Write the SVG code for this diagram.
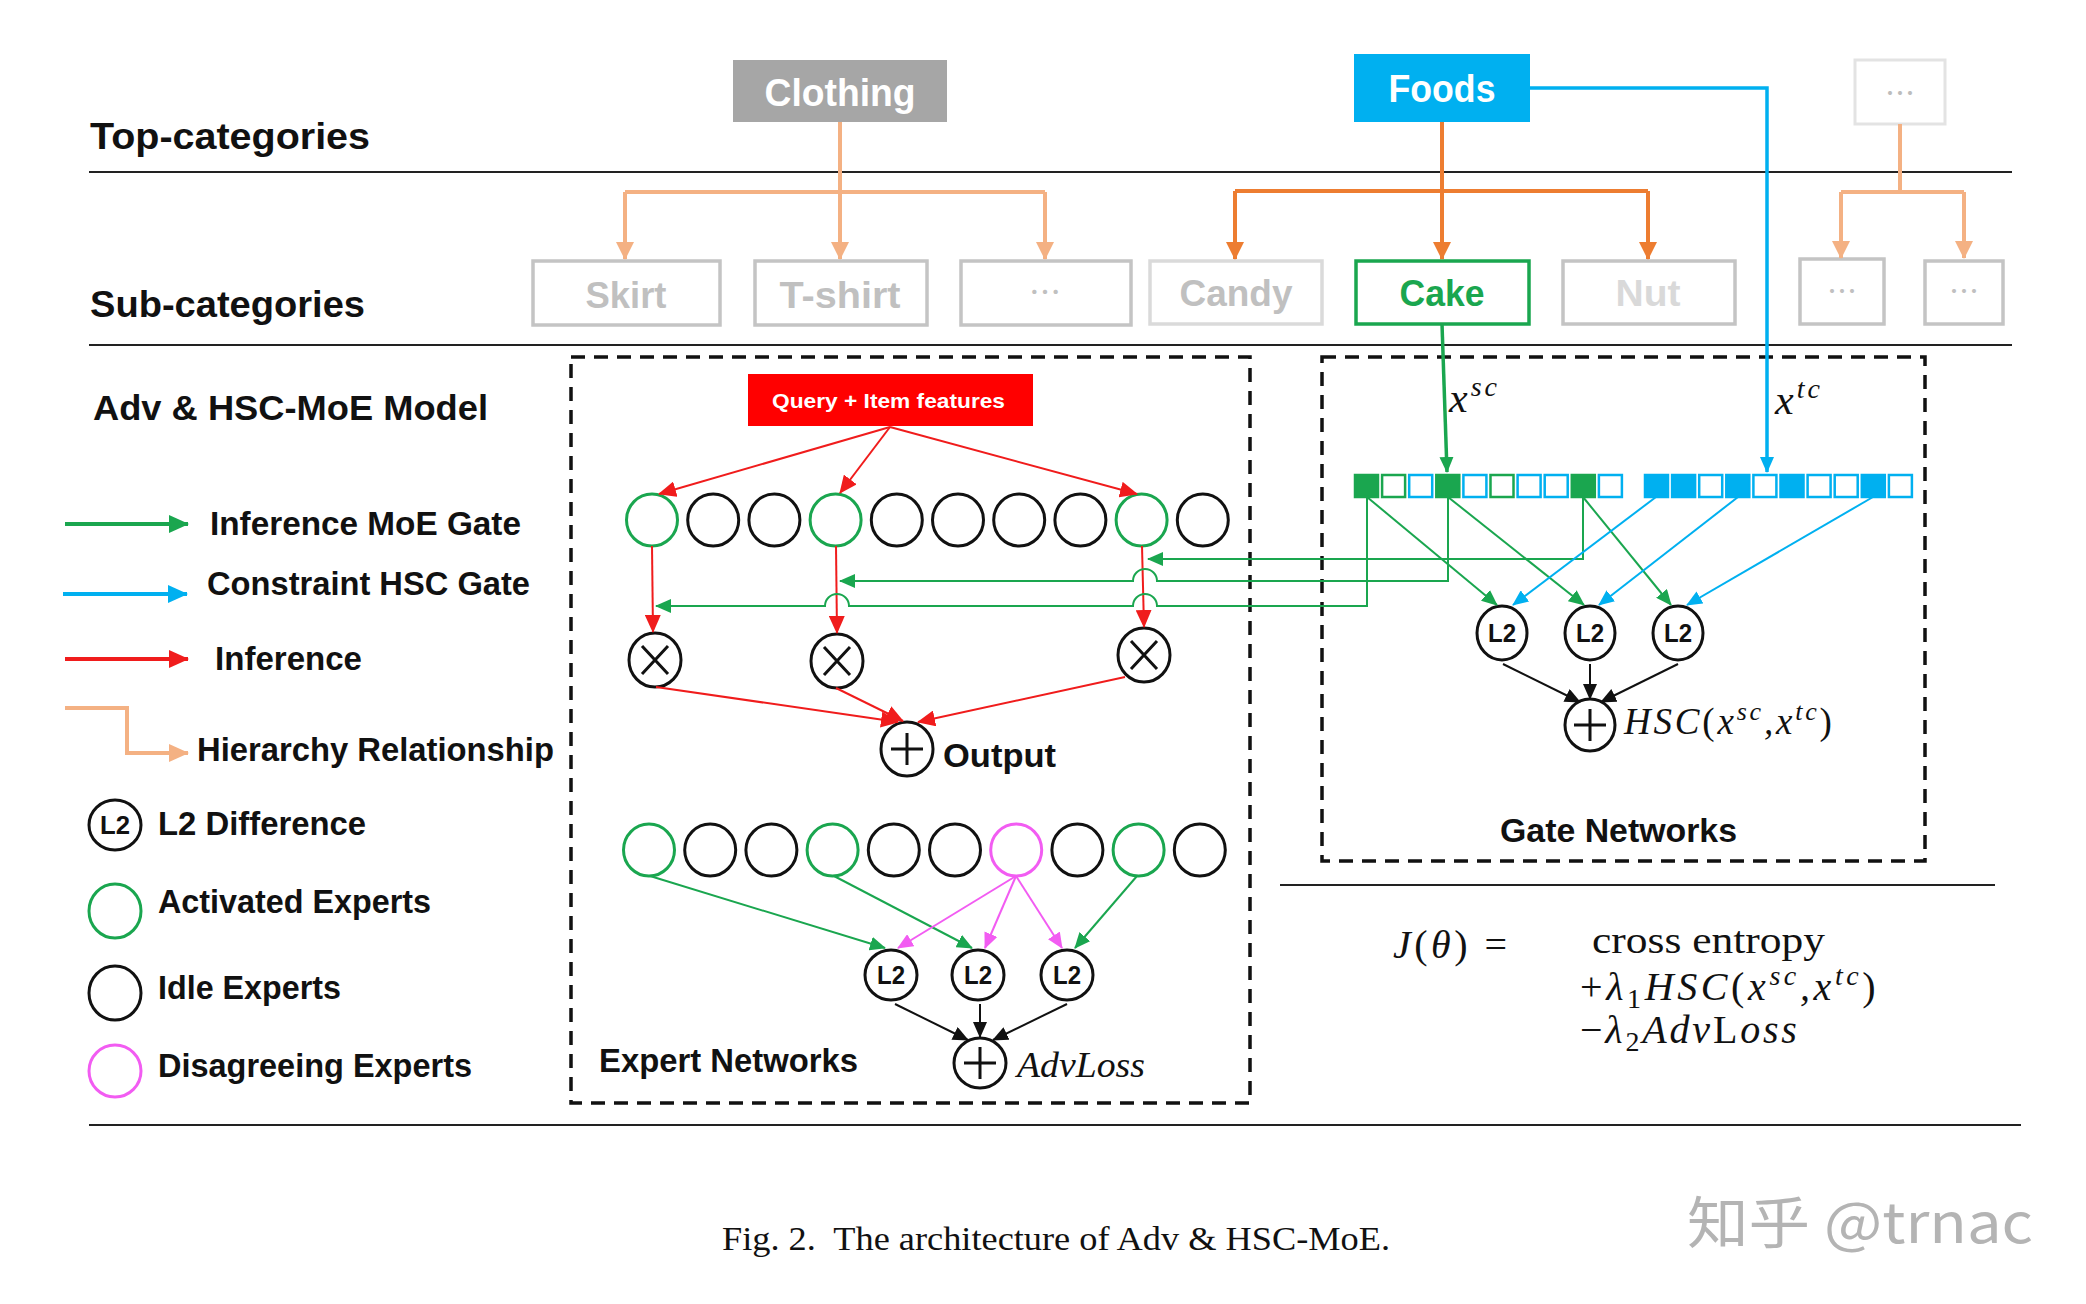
<svg xmlns="http://www.w3.org/2000/svg" width="2086" height="1304" viewBox="0 0 2086 1304">
<style>
.sep{stroke:#222;stroke-width:2;fill:none}
.dash{fill:none;stroke:#111;stroke-width:3.5;stroke-dasharray:14 9}
.lbl{font-family:"Liberation Sans",Arial,sans-serif;font-weight:bold;fill:#111}
.box{font-family:"Liberation Sans",Arial,sans-serif;font-weight:bold;text-anchor:middle}
.dots{font-family:"Noto Sans CJK SC","Liberation Sans",sans-serif;text-anchor:middle}
.ek{fill:#fff;stroke:#111;stroke-width:3}
.eg{fill:#fff;stroke:#1aa64f;stroke-width:3}
.ep{fill:#fff;stroke:#f25cf2;stroke-width:3}
.op{fill:#fff;stroke:#111;stroke-width:3}
.opl{stroke:#111;stroke-width:3;fill:none}
.l2t{font-family:"Liberation Sans",Arial,sans-serif;font-weight:bold;font-size:26px;text-anchor:middle;fill:#111}
.m{font-family:"Liberation Serif","Times New Roman",serif;font-style:italic;fill:#111}
.mu{font-family:"Liberation Serif","Times New Roman",serif;font-style:normal;fill:#111}
.hl{stroke:#f4b183;stroke-width:4;fill:none}
.hd{stroke:#ed7d31;stroke-width:4;fill:none}
.red{stroke:#f01c1c;stroke-width:2;fill:none}
.grn{stroke:#1aa64f;stroke-width:2;fill:none}
.blu{stroke:#00b0f0;stroke-width:2;fill:none}
.pnk{stroke:#f25cf2;stroke-width:2;fill:none}
.blk{stroke:#111;stroke-width:2;fill:none}
.sqg{fill:#fff;stroke:#1aa64f;stroke-width:2.5}
.sqb{fill:#fff;stroke:#00b0f0;stroke-width:2.5}
.sqG{fill:#1aa64f;stroke:#1aa64f;stroke-width:2.5}
.sqB{fill:#00b0f0;stroke:#00b0f0;stroke-width:2.5}
</style>
<defs>
<marker id="aR" markerUnits="userSpaceOnUse" markerWidth="18" markerHeight="16" viewBox="0 0 18 16" refX="17" refY="8" orient="auto"><path d="M0,0 L18,8 L0,16 z" fill="#f01c1c"/></marker>
<marker id="aG" markerUnits="userSpaceOnUse" markerWidth="16" markerHeight="14" viewBox="0 0 16 14" refX="15" refY="7" orient="auto"><path d="M0,0 L16,7 L0,14 z" fill="#1aa64f"/></marker>
<marker id="aB" markerUnits="userSpaceOnUse" markerWidth="16" markerHeight="14" viewBox="0 0 16 14" refX="15" refY="7" orient="auto"><path d="M0,0 L16,7 L0,14 z" fill="#00b0f0"/></marker>
<marker id="aP" markerUnits="userSpaceOnUse" markerWidth="16" markerHeight="14" viewBox="0 0 16 14" refX="15" refY="7" orient="auto"><path d="M0,0 L16,7 L0,14 z" fill="#f25cf2"/></marker>
<marker id="aK" markerUnits="userSpaceOnUse" markerWidth="16" markerHeight="14" viewBox="0 0 16 14" refX="15" refY="7" orient="auto"><path d="M0,0 L16,7 L0,14 z" fill="#111"/></marker>
<marker id="aL" markerUnits="userSpaceOnUse" markerWidth="18" markerHeight="18" viewBox="0 0 18 18" refX="17" refY="9" orient="auto"><path d="M0,0 L18,9 L0,18 z" fill="#f4b183"/></marker>
<marker id="aD" markerUnits="userSpaceOnUse" markerWidth="18" markerHeight="18" viewBox="0 0 18 18" refX="17" refY="9" orient="auto"><path d="M0,0 L18,9 L0,18 z" fill="#ed7d31"/></marker>
<marker id="aGL" markerUnits="userSpaceOnUse" markerWidth="20" markerHeight="18" viewBox="0 0 20 18" refX="19" refY="9" orient="auto"><path d="M0,0 L20,9 L0,18 z" fill="#1aa64f"/></marker>
<marker id="aBL" markerUnits="userSpaceOnUse" markerWidth="20" markerHeight="18" viewBox="0 0 20 18" refX="19" refY="9" orient="auto"><path d="M0,0 L20,9 L0,18 z" fill="#00b0f0"/></marker>
<marker id="aRL" markerUnits="userSpaceOnUse" markerWidth="20" markerHeight="18" viewBox="0 0 20 18" refX="19" refY="9" orient="auto"><path d="M0,0 L20,9 L0,18 z" fill="#f01c1c"/></marker>
<marker id="aLL" markerUnits="userSpaceOnUse" markerWidth="20" markerHeight="18" viewBox="0 0 20 18" refX="19" refY="9" orient="auto"><path d="M0,0 L20,9 L0,18 z" fill="#f4b183"/></marker>
</defs>
<rect width="2086" height="1304" fill="#fff"/>

<!-- separators and frames -->
<g id="frames">
<line class="sep" x1="89" y1="172" x2="2012" y2="172"/>
<line class="sep" x1="89" y1="345" x2="2012" y2="345"/>
<line class="sep" x1="1280" y1="885" x2="1995" y2="885"/>
<line class="sep" x1="89" y1="1125" x2="2021" y2="1125"/>
<rect class="dash" x="571" y="357" width="679" height="746"/>
<rect class="dash" x="1322" y="357" width="603" height="504"/>
</g>

<g id="row-labels">
<text class="lbl" x="90" y="149" font-size="36" textLength="280" lengthAdjust="spacingAndGlyphs">Top-categories</text>
<text class="lbl" x="90" y="317" font-size="36" textLength="275" lengthAdjust="spacingAndGlyphs">Sub-categories</text>
<text class="lbl" x="93" y="420" font-size="35" textLength="395" lengthAdjust="spacingAndGlyphs">Adv &amp; HSC-MoE Model</text>
</g>

<!-- top categories -->
<g id="clothing"><rect x="733" y="60" width="214" height="62" fill="#a6a6a6"/><text class="box" x="840" y="106" font-size="38" fill="#fff" textLength="151" lengthAdjust="spacingAndGlyphs">Clothing</text></g>
<g id="foods"><rect x="1354" y="54" width="176" height="68" fill="#00b0f0"/><text class="box" x="1442" y="102" font-size="38" fill="#fff" textLength="107" lengthAdjust="spacingAndGlyphs">Foods</text></g>
<g id="top-more"><rect x="1855" y="60" width="90" height="64" fill="#fff" stroke="#e3e3e3" stroke-width="3"/><text class="dots" x="1900" y="104" font-size="30" fill="#bdbdbd">…</text></g>

<!-- sub categories -->
<g id="skirt"><rect x="533" y="261" width="187" height="64" fill="#fff" stroke="#c4c4c4" stroke-width="3.5"/><text class="box" x="626" y="308" font-size="37" fill="#c0c0c0" textLength="81" lengthAdjust="spacingAndGlyphs">Skirt</text></g>
<g id="tshirt"><rect x="755" y="261" width="172" height="64" fill="#fff" stroke="#c4c4c4" stroke-width="3.5"/><text class="box" x="840" y="308" font-size="37" fill="#c0c0c0" textLength="121" lengthAdjust="spacingAndGlyphs">T-shirt</text></g>
<g id="clothing-more"><rect x="961" y="261" width="170" height="64" fill="#fff" stroke="#c4c4c4" stroke-width="3.5"/><text class="dots" x="1045" y="304" font-size="32" fill="#c0c0c0">…</text></g>
<g id="candy"><rect x="1150" y="261" width="172" height="63" fill="#fff" stroke="#dadada" stroke-width="3.5"/><text class="box" x="1236" y="306" font-size="37" fill="#c0c0c0" textLength="113" lengthAdjust="spacingAndGlyphs">Candy</text></g>
<g id="cake"><rect x="1356" y="261" width="173" height="63" fill="#fff" stroke="#1aa64f" stroke-width="3.5"/><text class="box" x="1442" y="306" font-size="37" fill="#1aa64f" textLength="85" lengthAdjust="spacingAndGlyphs">Cake</text></g>
<g id="nut"><rect x="1563" y="261" width="172" height="63" fill="#fff" stroke="#c4c4c4" stroke-width="3.5"/><text class="box" x="1648" y="306" font-size="37" fill="#d9d9d9" textLength="65" lengthAdjust="spacingAndGlyphs">Nut</text></g>
<g id="more-1"><rect x="1800" y="259" width="84" height="65" fill="#fff" stroke="#c4c4c4" stroke-width="3.5"/><text class="dots" x="1842" y="302" font-size="30" fill="#c0c0c0">…</text></g>
<g id="more-2"><rect x="1925" y="261" width="78" height="63" fill="#fff" stroke="#c4c4c4" stroke-width="3.5"/><text class="dots" x="1964" y="302" font-size="30" fill="#c0c0c0">…</text></g>

<!-- legend -->
<g id="legend">
<line x1="65" y1="524" x2="188" y2="524" stroke="#1aa64f" stroke-width="4" marker-end="url(#aGL)"/>
<text class="lbl" x="210" y="535" font-size="33" textLength="311" lengthAdjust="spacingAndGlyphs">Inference MoE Gate</text>
<line x1="63" y1="594" x2="187" y2="594" stroke="#00b0f0" stroke-width="4" marker-end="url(#aBL)"/>
<text class="lbl" x="207" y="595" font-size="33" textLength="323" lengthAdjust="spacingAndGlyphs">Constraint HSC Gate</text>
<line x1="65" y1="659" x2="188" y2="659" stroke="#f01c1c" stroke-width="4" marker-end="url(#aRL)"/>
<text class="lbl" x="215" y="670" font-size="33" textLength="147" lengthAdjust="spacingAndGlyphs">Inference</text>
<path d="M65,708 H127 V753 H188" stroke="#f4b183" stroke-width="4" fill="none" marker-end="url(#aLL)"/>
<text class="lbl" x="197" y="761" font-size="33" textLength="357" lengthAdjust="spacingAndGlyphs">Hierarchy Relationship</text>
<ellipse class="op" cx="115" cy="825" rx="26" ry="25"/>
<text class="l2t" x="115" y="834" textLength="30" lengthAdjust="spacingAndGlyphs">L2</text>
<text class="lbl" x="158" y="835" font-size="33" textLength="208" lengthAdjust="spacingAndGlyphs">L2 Difference</text>
<ellipse class="eg" cx="115" cy="911" rx="26" ry="27"/>
<text class="lbl" x="158" y="913" font-size="33" textLength="273" lengthAdjust="spacingAndGlyphs">Activated Experts</text>
<ellipse class="ek" cx="115" cy="993" rx="26" ry="27"/>
<text class="lbl" x="158" y="999" font-size="33" textLength="183" lengthAdjust="spacingAndGlyphs">Idle Experts</text>
<ellipse class="ep" cx="115" cy="1071" rx="26" ry="26"/>
<text class="lbl" x="158" y="1077" font-size="33" textLength="314" lengthAdjust="spacingAndGlyphs">Disagreeing Experts</text>
</g>

<!-- inference part -->
<g id="query"><rect x="748" y="374" width="285" height="52" fill="#ff0000"/><text class="lbl" x="772" y="408" font-size="21" style="fill:#fff" textLength="233" lengthAdjust="spacingAndGlyphs">Query + Item features</text></g>

<g id="experts-top">
<ellipse class="eg" cx="652" cy="520" rx="25.5" ry="26"/>
<ellipse class="ek" cx="713.2" cy="520" rx="25.5" ry="26"/>
<ellipse class="ek" cx="774.4" cy="520" rx="25.5" ry="26"/>
<ellipse class="eg" cx="835.6" cy="520" rx="25.5" ry="26"/>
<ellipse class="ek" cx="896.8" cy="520" rx="25.5" ry="26"/>
<ellipse class="ek" cx="958" cy="520" rx="25.5" ry="26"/>
<ellipse class="ek" cx="1019.2" cy="520" rx="25.5" ry="26"/>
<ellipse class="ek" cx="1080.4" cy="520" rx="25.5" ry="26"/>
<ellipse class="eg" cx="1141.6" cy="520" rx="25.5" ry="26"/>
<ellipse class="ek" cx="1202.8" cy="520" rx="25.5" ry="26"/>
</g>

<g id="mult-1"><ellipse class="op" cx="655" cy="660" rx="26" ry="27"/><path class="opl" d="M642,646 L668,674 M668,646 L642,674"/></g>
<g id="mult-2"><ellipse class="op" cx="837" cy="661" rx="26" ry="27"/><path class="opl" d="M824,647 L850,675 M850,647 L824,675"/></g>
<g id="mult-3"><ellipse class="op" cx="1144" cy="655" rx="26" ry="27"/><path class="opl" d="M1131,641 L1157,669 M1157,641 L1131,669"/></g>
<g id="output"><ellipse class="op" cx="907" cy="749" rx="26" ry="27"/><path class="opl" d="M891,749 H923 M907,733 V765"/><text class="lbl" x="943" y="767" font-size="33" textLength="113" lengthAdjust="spacingAndGlyphs">Output</text></g>

<!-- expert networks part -->
<g id="experts-bottom">
<ellipse class="eg" cx="649" cy="850" rx="25.5" ry="26"/>
<ellipse class="ek" cx="710.2" cy="850" rx="25.5" ry="26"/>
<ellipse class="ek" cx="771.4" cy="850" rx="25.5" ry="26"/>
<ellipse class="eg" cx="832.6" cy="850" rx="25.5" ry="26"/>
<ellipse class="ek" cx="893.8" cy="850" rx="25.5" ry="26"/>
<ellipse class="ek" cx="955" cy="850" rx="25.5" ry="26"/>
<ellipse class="ep" cx="1016.2" cy="850" rx="25.5" ry="26"/>
<ellipse class="ek" cx="1077.4" cy="850" rx="25.5" ry="26"/>
<ellipse class="eg" cx="1138.6" cy="850" rx="25.5" ry="26"/>
<ellipse class="ek" cx="1199.8" cy="850" rx="25.5" ry="26"/>
</g>
<g id="adv-l2-1"><ellipse class="op" cx="891" cy="975" rx="26" ry="25"/><text class="l2t" x="891" y="984" textLength="28" lengthAdjust="spacingAndGlyphs">L2</text></g>
<g id="adv-l2-2"><ellipse class="op" cx="978" cy="975" rx="26" ry="25"/><text class="l2t" x="978" y="984" textLength="28" lengthAdjust="spacingAndGlyphs">L2</text></g>
<g id="adv-l2-3"><ellipse class="op" cx="1067" cy="975" rx="26" ry="25"/><text class="l2t" x="1067" y="984" textLength="28" lengthAdjust="spacingAndGlyphs">L2</text></g>
<g id="adv-sum"><ellipse class="op" cx="980" cy="1063" rx="26" ry="25"/><path class="opl" d="M964,1063 H996 M980,1047 V1079"/><text class="m" x="1017" y="1077" font-size="36" textLength="128" lengthAdjust="spacingAndGlyphs">AdvLoss</text></g>
<text class="lbl" id="expert-networks-label" x="599" y="1072" font-size="33" textLength="259" lengthAdjust="spacingAndGlyphs">Expert Networks</text>

<!-- gate networks part -->
<g id="gate-vector">
<rect class="sqG" x="1355" y="475" width="23" height="22"/>
<rect class="sqg" x="1382.1" y="475" width="23" height="22"/>
<rect class="sqb" x="1409.2" y="475" width="23" height="22"/>
<rect class="sqG" x="1436.3" y="475" width="23" height="22"/>
<rect class="sqb" x="1463.4" y="475" width="23" height="22"/>
<rect class="sqg" x="1490.5" y="475" width="23" height="22"/>
<rect class="sqb" x="1517.6" y="475" width="23" height="22"/>
<rect class="sqb" x="1544.7" y="475" width="23" height="22"/>
<rect class="sqG" x="1571.8" y="475" width="23" height="22"/>
<rect class="sqb" x="1598.9" y="475" width="23" height="22"/>
<rect class="sqB" x="1645" y="475" width="23" height="22"/>
<rect class="sqB" x="1672.1" y="475" width="23" height="22"/>
<rect class="sqb" x="1699.2" y="475" width="23" height="22"/>
<rect class="sqB" x="1726.3" y="475" width="23" height="22"/>
<rect class="sqb" x="1753.4" y="475" width="23" height="22"/>
<rect class="sqB" x="1780.5" y="475" width="23" height="22"/>
<rect class="sqb" x="1807.6" y="475" width="23" height="22"/>
<rect class="sqb" x="1834.7" y="475" width="23" height="22"/>
<rect class="sqB" x="1861.8" y="475" width="23" height="22"/>
<rect class="sqb" x="1888.9" y="475" width="23" height="22"/>
</g>
<g id="gate-l2-1"><ellipse class="op" cx="1502" cy="633" rx="25" ry="27"/><text class="l2t" x="1502" y="642" textLength="28" lengthAdjust="spacingAndGlyphs">L2</text></g>
<g id="gate-l2-2"><ellipse class="op" cx="1590" cy="633" rx="25" ry="27"/><text class="l2t" x="1590" y="642" textLength="28" lengthAdjust="spacingAndGlyphs">L2</text></g>
<g id="gate-l2-3"><ellipse class="op" cx="1678" cy="633" rx="25" ry="27"/><text class="l2t" x="1678" y="642" textLength="28" lengthAdjust="spacingAndGlyphs">L2</text></g>
<g id="hsc-sum"><ellipse class="op" cx="1590" cy="725" rx="25" ry="26"/><path class="opl" d="M1574,725 H1606 M1590,709 V741"/>
<text class="m" x="1624" y="734" font-size="37" letter-spacing="2.8"><tspan>HSC</tspan><tspan font-style="normal">(</tspan><tspan>x</tspan><tspan dy="-14" font-size="26">sc</tspan><tspan dy="14">,</tspan><tspan>x</tspan><tspan dy="-14" font-size="26">tc</tspan><tspan dy="14" font-style="normal">)</tspan></text></g>
<text class="lbl" id="gate-networks-label" x="1500" y="842" font-size="33" textLength="237" lengthAdjust="spacingAndGlyphs">Gate Networks</text>
<text class="m" id="xsc" x="1449" y="412" font-size="42" letter-spacing="3"><tspan>x</tspan><tspan dy="-16" font-size="28">sc</tspan></text>
<text class="m" id="xtc" x="1775" y="414" font-size="42" letter-spacing="3"><tspan>x</tspan><tspan dy="-16" font-size="28">tc</tspan></text>

<!-- objective -->
<g id="objective">
<text class="m" x="1393" y="958" font-size="40" letter-spacing="3.5">J<tspan font-style="normal">(</tspan>θ<tspan font-style="normal">) =</tspan></text>
<text class="mu" x="1592" y="953" font-size="38" textLength="233" lengthAdjust="spacingAndGlyphs">cross entropy</text>
<text class="m" x="1580" y="1000" font-size="40" letter-spacing="3.6"><tspan font-style="normal">+</tspan>λ<tspan dy="8" font-size="28" font-style="normal">1</tspan><tspan dy="-8">HSC</tspan><tspan font-style="normal">(</tspan>x<tspan dy="-15" font-size="28">sc</tspan><tspan dy="15">,x</tspan><tspan dy="-15" font-size="28">tc</tspan><tspan dy="15" font-style="normal">)</tspan></text>
<text class="m" x="1580" y="1043" font-size="40" letter-spacing="2.8"><tspan font-style="normal">−</tspan>λ<tspan dy="8" font-size="28" font-style="normal">2</tspan><tspan dy="-8">Adv</tspan><tspan font-style="normal">L</tspan>oss</text>
</g>

<!-- connectors -->
<g id="connectors">
<path class="hl" d="M840,122 V192 M625,192 H1045"/>
<line class="hl" x1="625" y1="192" x2="625" y2="259" marker-end="url(#aL)"/>
<line class="hl" x1="840" y1="192" x2="840" y2="259" marker-end="url(#aL)"/>
<line class="hl" x1="1045" y1="192" x2="1045" y2="259" marker-end="url(#aL)"/>
<path class="hd" d="M1442,122 V191 M1235,191 H1648"/>
<line class="hd" x1="1235" y1="191" x2="1235" y2="259" marker-end="url(#aD)"/>
<line class="hd" x1="1442" y1="191" x2="1442" y2="259" marker-end="url(#aD)"/>
<line class="hd" x1="1648" y1="191" x2="1648" y2="259" marker-end="url(#aD)"/>
<path class="hl" d="M1900,124 V192 M1841,192 H1964"/>
<line class="hl" x1="1841" y1="192" x2="1841" y2="258" marker-end="url(#aL)"/>
<line class="hl" x1="1964" y1="192" x2="1964" y2="258" marker-end="url(#aL)"/>
<path d="M1530,88 H1767 V472" stroke="#00b0f0" stroke-width="3.5" fill="none" marker-end="url(#aB)"/>
<line x1="1442" y1="324" x2="1447" y2="472" stroke="#1aa64f" stroke-width="3.5" marker-end="url(#aG)"/>

<line class="red" x1="890" y1="427" x2="659" y2="494" marker-end="url(#aR)"/>
<line class="red" x1="890" y1="427" x2="840" y2="493" marker-end="url(#aR)"/>
<line class="red" x1="890" y1="427" x2="1137" y2="494" marker-end="url(#aR)"/>
<line class="red" x1="652" y1="546" x2="653" y2="632" marker-end="url(#aR)"/>
<line class="red" x1="836" y1="546" x2="837" y2="633" marker-end="url(#aR)"/>
<line class="red" x1="1142" y1="546" x2="1144" y2="627" marker-end="url(#aR)"/>
<line class="red" x1="656" y1="687" x2="898" y2="722" marker-end="url(#aR)"/>
<line class="red" x1="836" y1="688" x2="903" y2="721" marker-end="url(#aR)"/>
<line class="red" x1="1125" y1="677" x2="918" y2="722" marker-end="url(#aR)"/>

<path class="grn" d="M1583,497 V559 H1148" marker-end="url(#aG)"/>
<path class="grn" d="M1448,497 V581 H1157 A12,12 0 0 0 1133,581 H840" marker-end="url(#aG)"/>
<path class="grn" d="M1367,497 V606 H1157 A12,12 0 0 0 1133,606 H849 A12,12 0 0 0 825,606 H656" marker-end="url(#aG)"/>
<line class="grn" x1="1367" y1="497" x2="1497" y2="605" marker-end="url(#aG)"/>
<line class="grn" x1="1448" y1="497" x2="1584" y2="605" marker-end="url(#aG)"/>
<line class="grn" x1="1583" y1="497" x2="1671" y2="605" marker-end="url(#aG)"/>
<line class="blu" x1="1656" y1="497" x2="1513" y2="605" marker-end="url(#aB)"/>
<line class="blu" x1="1738" y1="497" x2="1599" y2="605" marker-end="url(#aB)"/>
<line class="blu" x1="1873" y1="497" x2="1687" y2="605" marker-end="url(#aB)"/>
<line class="blk" x1="1503" y1="664" x2="1580" y2="702" marker-end="url(#aK)"/>
<line class="blk" x1="1590" y1="664" x2="1590" y2="699" marker-end="url(#aK)"/>
<line class="blk" x1="1678" y1="664" x2="1601" y2="702" marker-end="url(#aK)"/>

<line class="grn" x1="650" y1="876" x2="885" y2="948" marker-end="url(#aG)"/>
<line class="grn" x1="834" y1="876" x2="972" y2="948" marker-end="url(#aG)"/>
<line class="grn" x1="1137" y1="876" x2="1075" y2="948" marker-end="url(#aG)"/>
<line class="pnk" x1="1016" y1="876" x2="898" y2="948" marker-end="url(#aP)"/>
<line class="pnk" x1="1016" y1="876" x2="985" y2="948" marker-end="url(#aP)"/>
<line class="pnk" x1="1016" y1="876" x2="1062" y2="948" marker-end="url(#aP)"/>
<line class="blk" x1="895" y1="1004" x2="968" y2="1040" marker-end="url(#aK)"/>
<line class="blk" x1="980" y1="1004" x2="980" y2="1037" marker-end="url(#aK)"/>
<line class="blk" x1="1067" y1="1004" x2="993" y2="1040" marker-end="url(#aK)"/>
</g>

<text id="caption" x="722" y="1250" font-family="'Liberation Serif','Times New Roman',serif" font-size="33" fill="#111" style="white-space:pre" textLength="668" lengthAdjust="spacingAndGlyphs">Fig. 2.  The architecture of Adv &amp; HSC-MoE.</text>
<text id="watermark" x="1687" y="1243" font-family="'Noto Sans CJK SC','Liberation Sans',sans-serif" font-size="56" fill="#b4b4b4" textLength="346" lengthAdjust="spacingAndGlyphs">知乎 @trnac</text>
</svg>
